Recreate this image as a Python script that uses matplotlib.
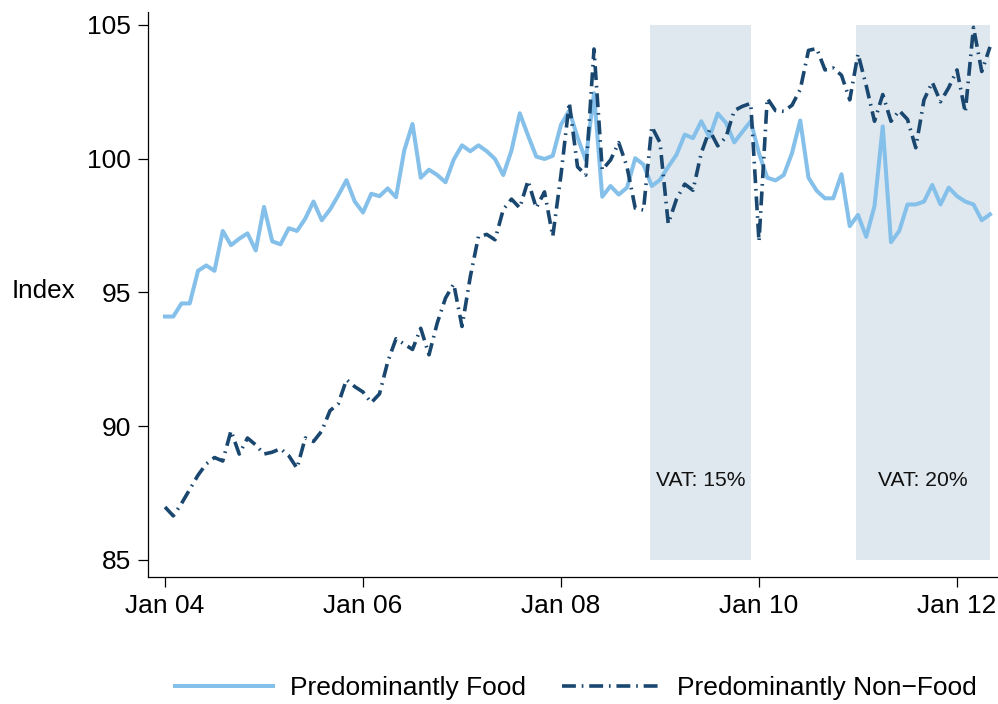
import matplotlib
matplotlib.use("Agg")
import matplotlib.pyplot as plt
import numpy as np

plt.rcParams['font.family'] = ['Liberation Sans', 'DejaVu Sans']
plt.rcParams['lines.scale_dashes'] = False

# Monthly index: 0 = Jan 2004 ... 100 = May 2012
months = list(range(101))

food = [94.10, 94.10, 94.59, 94.59, 95.81, 96.01, 95.81, 97.30, 96.77, 97.01,
        97.21, 96.57, 98.20, 96.91, 96.80, 97.40, 97.30, 97.76, 98.40, 97.70,
        98.10, 98.63, 99.20, 98.40, 97.99, 98.69, 98.60, 98.89, 98.56, 100.31,
        101.30, 99.29, 99.59, 99.39, 99.12, 99.97, 100.50, 100.28, 100.50, 100.28,
        99.99, 99.39, 100.31, 101.70, 100.87, 100.08, 99.99, 100.11, 101.27, 101.80,
        100.80, 99.95, 102.45, 98.58, 98.98, 98.66, 98.92, 100.02, 99.78, 98.98,
        99.21, 99.70, 100.15, 100.90, 100.77, 101.40, 100.81, 101.69, 101.34, 100.61,
        101.01, 101.40, 100.20, 99.29, 99.19, 99.39, 100.21, 101.43, 99.29, 98.80,
        98.52, 98.52, 99.42, 97.48, 97.90, 97.08, 98.23, 101.21, 96.88, 97.30,
        98.29, 98.29, 98.40, 99.02, 98.29, 98.92, 98.60, 98.40, 98.29, 97.70,
        97.92]

nonfood = [86.98, 86.65, 87.11, 87.64, 88.17, 88.59, 88.83, 88.70, 89.83, 88.96,
           89.56, 89.30, 88.96, 89.03, 89.16, 88.90, 88.43, 89.56, 89.43, 89.82,
           90.58, 90.84, 91.74, 91.48, 91.28, 90.88, 91.21, 92.41, 93.27, 93.07,
           92.87, 93.66, 92.67, 93.86, 94.79, 95.32, 93.73, 95.58, 97.10, 97.17,
           96.97, 98.10, 98.49, 98.16, 99.18, 98.16, 98.76, 97.10, 99.40, 102.10,
           99.70, 99.39, 104.10, 99.58, 99.95, 100.60, 99.70, 98.15, 98.08, 101.20,
           100.60, 97.57, 98.49, 99.05, 98.82, 100.21, 101.07, 100.48, 100.81, 101.80,
           101.96, 102.07, 96.90, 102.26, 101.80, 101.77, 102.00, 102.59, 104.05, 104.12,
           103.32, 103.39, 103.12, 102.20, 103.92, 102.73, 101.40, 102.40, 101.40, 101.80,
           101.47, 100.41, 102.20, 102.86, 102.13, 102.66, 103.32, 101.73, 104.91, 103.26,
           104.18]

vat_start = [58.8, 83.76]
vat_end = [71.0, 100.0]
vat_labels = ['VAT: 15%', 'VAT: 20%']
band_low, band_high = 85, 105
label_y = 87.96

xtick_pos = [0, 24, 48, 72, 96]
xtick_labels = ['Jan 04', 'Jan 06', 'Jan 08', 'Jan 10', 'Jan 12']
ytick_pos = [85, 90, 95, 100, 105]

fig = plt.figure(figsize=(9.98, 7.04), dpi=100)
ax = fig.add_axes([0.1483, 0.1804, 0.8517, 0.8026])

for s, e, lab in zip(vat_start, vat_end, vat_labels):
    ax.fill_between([s, e], band_low, band_high, color='#dfe8ef', lw=0, zorder=0)
    ax.text((s + e) / 2, label_y, lab, ha='center', va='center', fontsize=15.2,
            color='#111111', zorder=1)

l1, = ax.plot(months, food, color='#85c0ea', lw=2.9, solid_joinstyle='round',
              label='Predominantly Food', zorder=2)
l2, = ax.plot(months, nonfood, color='#1a476f', lw=2.6,
              dashes=(10, 4.2, 1.2, 4.2), dash_capstyle='butt',
              label='Predominantly Non\u2212Food', zorder=3)

ax.set_xlim(-2.06, 100.97)
ax.set_ylim(84.364, 105.486)
ax.set_xticks(xtick_pos)
ax.set_xticklabels(xtick_labels)
ax.set_yticks(ytick_pos)
ax.set_yticklabels([str(v) for v in ytick_pos])
ax.tick_params(axis='both', labelsize=19, length=7.5, width=0.9, pad=4.5,
               colors='black')
for side in ['top', 'right']:
    ax.spines[side].set_visible(False)
for side in ['left', 'bottom']:
    ax.spines[side].set_linewidth(0.9)

ax.set_ylabel('Index', rotation=0, fontsize=18.7, ha='center', va='center')
ax.yaxis.set_label_coords(-0.1235, 0.507)

fig.legend(handles=[l1, l2], loc='center', bbox_to_anchor=(0.577, 0.023),
           ncol=2, frameon=False, fontsize=19, handlelength=3.7,
           handletextpad=0.65, columnspacing=1.35)

fig.savefig('out.png', dpi=100, facecolor='white')
